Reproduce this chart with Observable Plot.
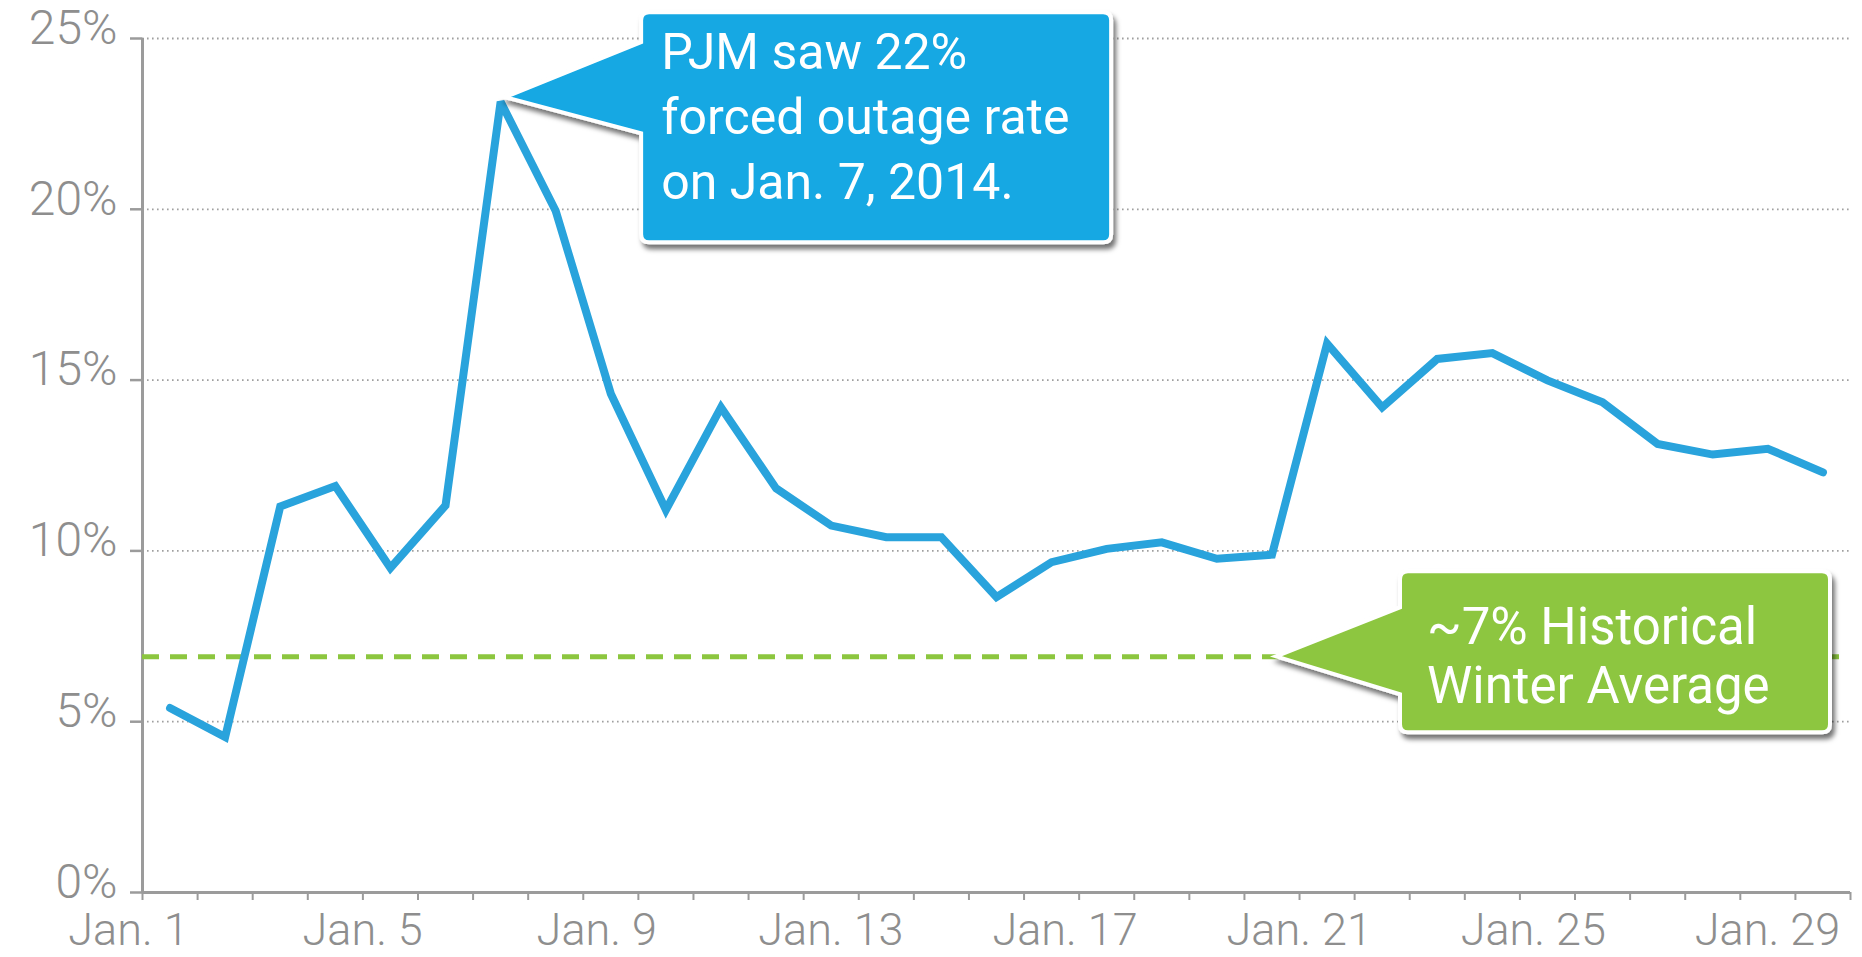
<!DOCTYPE html>
<html>
<head>
<meta charset="utf-8">
<script src="https://cdn.jsdelivr.net/npm/d3@7"></script>
<script src="https://cdn.jsdelivr.net/npm/@observablehq/plot@0.6"></script>
<style>
  html, body { margin: 0; padding: 0; background: #ffffff; }
  #chart svg { display: block; }
</style>
</head>
<body>
<div id="chart"></div>
<script>
// ---- data ----
const days = [1, 2, 3, 4, 5, 6, 7, 8, 9, 10, 11, 12, 13, 14, 15, 16,
              17, 18, 19, 20, 21, 22, 23, 24, 25, 26, 27, 28, 29, 30, 31];
const rates = [5.4, 4.55, 11.3, 11.9, 9.5, 11.33, 23.15, 19.95, 14.6, 11.2,
               14.2, 11.83, 10.74, 10.4, 10.4, 8.65, 9.67, 10.06, 10.25, 9.77,
               9.89, 16.07, 14.2, 15.62, 15.79, 14.99, 14.35, 13.13, 12.82, 12.99, 12.3];
const yTicks = [0, 5, 10, 15, 20, 25];
const labelDays = [1, 5, 9, 13, 17, 21, 25, 29];
const labelTexts = ["Jan. 1", "Jan. 5", "Jan. 9", "Jan. 13", "Jan. 17", "Jan. 21", "Jan. 25", "Jan. 29"];
const avgRate = 6.9;
const peakDay = 7;
const peakNote = ["PJM saw 22%", "forced outage rate", "on Jan. 7, 2014."];
const avgNote = ["~7% Historical", "Winter Average"];

// ---- build ----
const data = days.map((d, i) => ({day: d, rate: rates[i]}));
const edges = days.map(d => d - 0.5).concat([days[days.length - 1] + 0.5]);
const labelStretch = 1.0624; // labels in the original are spaced slightly wider than the day bands
const axisGray = "#9b9b9b";
const textGray = "#8e8e8e";

const chart = Plot.plot({
  width: 1862,
  height: 957,
  marginLeft: 142,
  marginRight: 12,
  marginTop: 38,
  marginBottom: 65,
  x: {domain: [edges[0], edges[edges.length - 1]], axis: null, label: null},
  y: {domain: [0, 25], axis: null, label: null},
  style: {fontFamily: "Roboto, 'Open Sans', sans-serif", background: "#ffffff", overflow: "visible"},
  marks: [
    Plot.ruleY(yTicks.filter(v => v > 0), {stroke: "#9f9f9f", strokeWidth: 1.8, strokeDasharray: "1.6,3.4"}),
    Plot.axisY(yTicks, {tickSize: 12, tickFormat: () => "", stroke: axisGray, strokeWidth: 2.5, label: null}),
    Plot.text(yTicks, {y: d => d, frameAnchor: "left", textAnchor: "end", dx: -25, dy: -10,
      text: d => d + "%", fontSize: 48, fontWeight: 300, fill: textGray}),
    Plot.axisX(edges, {tickSize: 8, tickFormat: () => "", stroke: axisGray, strokeWidth: 2, label: null}),
    Plot.ruleX([edges[0]], {stroke: axisGray, strokeWidth: 3}),
    Plot.ruleY([0], {stroke: axisGray, strokeWidth: 3}),
    Plot.ruleY([avgRate], {stroke: "#8cc63f", strokeWidth: 5, strokeDasharray: "17,11"}),
    Plot.line(data, {x: "day", y: "rate", stroke: "#29a3dc", strokeWidth: 8,
      strokeLinejoin: "miter", strokeMiterlimit: 3}),
    Plot.text(labelDays, {x: d => edges[0] - 0.254 + (d - 1) * labelStretch, frameAnchor: "bottom",
      lineAnchor: "top", dy: 21, text: (d, i) => labelTexts[i], fontSize: 45, fontWeight: 300, fill: textGray})
  ]
});
document.getElementById("chart").appendChild(chart);

// ---- annotations (callouts), positioned through the plot's scales ----
const xsd = chart.scale("x"), ysd = chart.scale("y");
const sx = d3.scaleLinear(xsd.domain, xsd.range);
const sy = d3.scaleLinear(ysd.domain, ysd.range);
const svg = d3.select(chart);
const defs = svg.append("defs");
const f = defs.append("filter").attr("id", "callout-shadow")
  .attr("x", "-10%").attr("y", "-10%").attr("width", "130%").attr("height", "140%");
f.append("feDropShadow").attr("dx", 3).attr("dy", 5).attr("stdDeviation", 2.5)
  .attr("flood-color", "#000").attr("flood-opacity", 0.55);

function callout(tip, o, fill, lines) {
  const L = tip[0] + o.left, R = tip[0] + o.right, T = tip[1] + o.top, B = tip[1] + o.bottom;
  const r = 8;
  const p = d3.path();
  p.moveTo(tip[0], tip[1]);
  p.lineTo(L, tip[1] + o.baseTop);
  p.lineTo(L, T + r); p.quadraticCurveTo(L, T, L + r, T);
  p.lineTo(R - r, T); p.quadraticCurveTo(R, T, R, T + r);
  p.lineTo(R, B - r); p.quadraticCurveTo(R, B, R - r, B);
  p.lineTo(L + r, B); p.quadraticCurveTo(L, B, L, B - r);
  p.lineTo(L, tip[1] + o.baseBottom);
  p.closePath();
  const g = svg.append("g");
  g.append("path").attr("d", p.toString()).attr("fill", fill)
    .attr("stroke", "#ffffff").attr("stroke-width", 4).attr("stroke-linejoin", "miter")
    .attr("filter", "url(#callout-shadow)");
  const t = g.append("text").attr("fill", "#ffffff")
    .attr("text-anchor", "start")
    .attr("font-family", "Roboto, 'Open Sans', sans-serif")
    .attr("font-size", o.fontSize);
  lines.forEach((s, i) => {
    t.append("tspan").attr("x", tip[0] + o.textX).attr("y", tip[1] + o.firstBaseline + i * o.lineGap).text(s);
  });
}

const peakRate = rates[days.indexOf(peakDay)];
callout([sx(peakDay) + 5, sy(peakRate) - 4],
  {left: 136, right: 606, top: -85, bottom: 145, baseTop: -55, baseBottom: 36,
   textX: 156, firstBaseline: -28, lineGap: 65, fontSize: 50},
  "#14a8e3", peakNote);

callout([sx(edges[edges.length - 1]) - 574, sy(avgRate)],
  {left: 124, right: 554, top: -85, bottom: 76, baseTop: -49, baseBottom: 38,
   textX: 151, firstBaseline: -12, lineGap: 59, fontSize: 51},
  "#8dc63f", avgNote);
</script>
</body>
</html>
